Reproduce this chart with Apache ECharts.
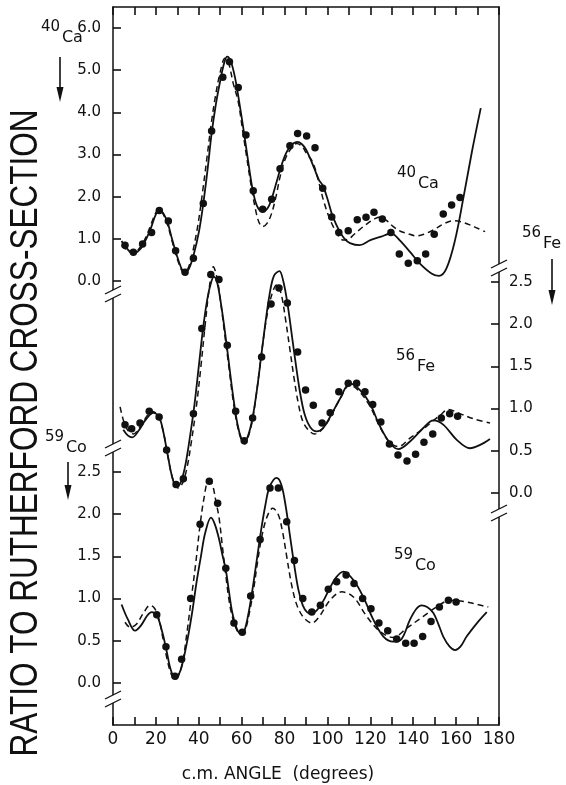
<!DOCTYPE html>
<html><head><meta charset="utf-8">
<script src="https://cdn.jsdelivr.net/npm/echarts@6/dist/echarts.min.js"></script>
<style>html,body{margin:0;padding:0;background:#fff}#c{width:566px;height:785px}</style>
</head><body><div id="c"></div><script>
// ---------- DATA ----------
const xTickLabels = [0, 20, 40, 60, 80, 100, 120, 140, 160, 180];

// 40Ca (left scale, top panel)
const caAngle = [5.6, 9.5, 13.8, 18.0, 21.6, 25.8, 29.2, 33.6, 37.5, 42.1, 46.0, 51.2, 54.3, 58.4, 62.0, 65.4, 69.8, 74.0, 77.9, 82.5, 86.1, 90.3, 94.2, 97.8, 102.0, 105.3, 109.7, 113.9, 118.0, 121.7, 125.6, 129.6, 133.5, 137.7, 141.9, 145.8, 149.8, 154.0, 157.9, 161.8];
const caValue = [0.85, 0.68, 0.88, 1.15, 1.67, 1.42, 0.72, 0.21, 0.54, 1.84, 3.56, 4.83, 5.20, 4.59, 3.46, 2.14, 1.70, 1.94, 2.66, 3.21, 3.50, 3.44, 3.16, 2.20, 1.52, 1.15, 1.19, 1.45, 1.51, 1.63, 1.47, 1.15, 0.64, 0.42, 0.48, 0.64, 1.11, 1.59, 1.80, 1.98];
const caSolidAngle = [4, 6, 9.5, 12, 14, 16, 18, 20, 21.8, 23.5, 25.5, 27.5, 29.5, 31.5, 33.5, 35.5, 37.5, 40, 42, 44, 46, 48, 50, 52, 53.3, 55, 57, 59, 61, 63, 65, 67, 69.5, 72, 74, 76, 78, 80, 82, 84, 86, 88, 90, 92, 94, 96, 98, 100, 102, 104, 106, 108, 110.5, 115, 120, 125, 129, 131, 134, 138.5, 143, 148.5, 152, 155.5, 159.5, 163.5, 167.5, 171.5];
const caSolidValue = [0.95, 0.8, 0.65, 0.72, 0.85, 1.05, 1.3, 1.58, 1.68, 1.6, 1.38, 1.0, 0.65, 0.35, 0.18, 0.3, 0.6, 1.15, 1.8, 2.6, 3.5, 4.2, 4.75, 5.2, 5.32, 5.2, 4.8, 4.2, 3.55, 2.85, 2.2, 1.8, 1.65, 1.72, 1.95, 2.3, 2.65, 2.95, 3.15, 3.26, 3.3, 3.25, 3.12, 2.9, 2.65, 2.4, 2.25, 1.95, 1.6, 1.35, 1.15, 1.0, 0.9, 0.85, 0.97, 1.05, 1.12, 1.1, 0.95, 0.69, 0.42, 0.18, 0.12, 0.3, 0.97, 2.0, 3.1, 4.1];
const caDashAngle = [4, 6, 9.5, 12, 14, 16, 18, 20, 21.5, 23, 25, 27, 29, 31, 33, 35, 37, 39.5, 42, 44, 46, 48, 50, 52.2, 54, 56, 58.4, 60.5, 62.3, 64.3, 66.2, 68, 69.8, 72, 74, 76, 77.9, 80, 82.5, 85.6, 88, 90.2, 93.3, 96.5, 98.1, 100.5, 102.7, 105, 107.4, 110, 112.1, 115, 118.3, 121.5, 124.5, 127.5, 130.7, 134, 137, 141.6, 145.5, 149.4, 154, 158.7, 162.5, 166.5, 170, 173.5];
const caDashValue = [0.85, 0.75, 0.66, 0.76, 0.9, 1.12, 1.38, 1.62, 1.7, 1.62, 1.4, 1.05, 0.68, 0.38, 0.2, 0.3, 0.65, 1.3, 2.2, 3.0, 3.8, 4.45, 4.95, 5.28, 5.15, 4.7, 4.25, 3.55, 2.95, 2.3, 1.76, 1.4, 1.29, 1.38, 1.61, 2.0, 2.47, 2.85, 3.1, 3.26, 3.2, 3.03, 2.8, 2.24, 1.92, 1.55, 1.29, 1.08, 0.97, 1.0, 1.09, 1.22, 1.35, 1.46, 1.52, 1.44, 1.29, 1.18, 1.13, 1.07, 1.12, 1.21, 1.35, 1.43, 1.4, 1.33, 1.25, 1.17];

// 56Fe (right scale, middle panel)
const feAngle = [5.6, 8.7, 12.6, 16.9, 21.5, 25.0, 29.4, 32.8, 37.5, 41.4, 45.6, 49.4, 53.3, 57.2, 61.2, 65.1, 69.3, 73.7, 77.4, 81.3, 86.1, 89.8, 93.4, 97.5, 101.3, 105.3, 109.7, 113.6, 117.5, 121.1, 124.9, 128.9, 132.9, 137.1, 141.1, 145.0, 149.1, 153.1, 157.0, 160.7];
const feValue = [0.81, 0.76, 0.83, 0.97, 0.90, 0.51, 0.10, 0.17, 0.94, 1.95, 2.59, 2.53, 1.75, 0.97, 0.62, 0.89, 1.61, 2.24, 2.43, 2.25, 1.67, 1.22, 1.04, 0.83, 0.95, 1.20, 1.30, 1.30, 1.20, 1.05, 0.84, 0.58, 0.45, 0.38, 0.46, 0.60, 0.70, 0.89, 0.94, 0.91];
const feSolidAngle = [4.8, 7, 9, 12, 15, 18.8, 21.5, 23.5, 25.5, 27.5, 29.6, 31.5, 33.5, 35.5, 38, 40, 42, 44, 45.8, 47.1, 48.5, 50, 52, 54, 56, 58, 60, 61.2, 63, 65, 67, 69, 71, 73, 75, 77.6, 79.5, 81.5, 83.5, 85.5, 87.5, 89.5, 92, 95, 98, 101.2, 105.9, 110.5, 115.2, 119.8, 124.5, 129.2, 133.1, 138.5, 144.7, 149.4, 154, 160.3, 166.5, 171.2, 175.8];
const feSolidValue = [0.75, 0.68, 0.66, 0.74, 0.86, 0.95, 0.9, 0.72, 0.45, 0.2, 0.07, 0.12, 0.3, 0.6, 1.05, 1.5, 1.95, 2.3, 2.5, 2.56, 2.5, 2.3, 1.95, 1.55, 1.15, 0.82, 0.63, 0.6, 0.68, 0.88, 1.2, 1.6, 2.0, 2.35, 2.57, 2.63, 2.5, 2.22, 1.85, 1.48, 1.15, 0.92, 0.78, 0.73, 0.77, 0.9, 1.12, 1.3, 1.22, 1.06, 0.79, 0.59, 0.52, 0.61, 0.77, 0.86, 0.81, 0.63, 0.53, 0.57, 0.64];
const feDashAngle = [3.3, 5, 7, 9.5, 12, 15, 18, 21, 23.5, 25.5, 28, 30.3, 32.5, 34.5, 36.5, 39, 41, 43, 45, 46.8, 48.5, 50, 52, 54, 56, 58, 60, 61.5, 63, 65, 67, 69, 71, 73, 75, 76.5, 78.5, 80.5, 82.5, 84.5, 86.5, 88.5, 91, 94, 97, 101, 106, 110.5, 115, 120, 124.5, 129, 133, 138.5, 142.5, 146.2, 149.5, 152.5, 156.4, 161.8, 168, 175.8];
const feDashValue = [1.02, 0.85, 0.74, 0.7, 0.76, 0.88, 0.97, 0.92, 0.72, 0.45, 0.15, 0.06, 0.12, 0.3, 0.6, 1.05, 1.5, 2.0, 2.45, 2.68, 2.55, 2.3, 1.9, 1.5, 1.1, 0.8, 0.62, 0.58, 0.66, 0.86, 1.2, 1.6, 1.98, 2.25, 2.42, 2.47, 2.35, 2.05, 1.7, 1.35, 1.05, 0.85, 0.75, 0.7, 0.74, 0.88, 1.12, 1.28, 1.2, 1.02, 0.78, 0.6, 0.55, 0.65, 0.72, 0.79, 0.86, 0.92, 0.99, 0.94, 0.88, 0.83];

// 59Co (left scale, bottom panel)
const coAngle = [20.4, 24.7, 28.9, 32.0, 36.2, 40.6, 44.9, 48.8, 52.6, 56.4, 60.3, 64.2, 68.6, 73.2, 77.1, 81.0, 84.6, 88.5, 92.7, 96.7, 100.4, 104.3, 108.7, 112.4, 116.4, 120.3, 124.0, 128.1, 132.3, 136.5, 140.4, 144.4, 148.3, 152.2, 156.4, 160.0];
const coValue = [0.81, 0.43, 0.08, 0.28, 1.00, 1.88, 2.39, 2.13, 1.36, 0.71, 0.60, 1.03, 1.70, 2.31, 2.31, 1.91, 1.45, 1.00, 0.84, 0.92, 1.11, 1.20, 1.28, 1.18, 1.00, 0.88, 0.71, 0.62, 0.52, 0.47, 0.47, 0.55, 0.73, 0.90, 0.98, 0.96];
const coSolidAngle = [4, 7, 10.3, 13, 16, 18, 20.5, 23, 25, 27, 28.9, 31, 33, 35, 37, 39, 41, 43, 45.7, 47.5, 49.5, 51, 52.6, 54, 55.5, 57.5, 59.5, 61, 63, 65, 67, 69, 71, 73, 76.3, 78.5, 80.5, 82.5, 84.5, 86.5, 88.5, 90.5, 92.5, 95, 98, 101, 104, 107.4, 112.1, 116.7, 121.4, 126.1, 130.7, 134.5, 138.5, 141.5, 143.9, 146.5, 149.4, 152, 154, 157, 159.5, 162, 164.9, 170.4, 174.3];
const coSolidValue = [0.93, 0.75, 0.62, 0.68, 0.8, 0.84, 0.8, 0.6, 0.38, 0.15, 0.07, 0.12, 0.3, 0.55, 0.85, 1.2, 1.5, 1.78, 1.96, 1.88, 1.7, 1.52, 1.34, 1.1, 0.85, 0.66, 0.58, 0.6, 0.8, 1.1, 1.45, 1.8, 2.1, 2.32, 2.43, 2.35, 2.1, 1.75, 1.4, 1.1, 0.92, 0.84, 0.82, 0.86, 0.97, 1.12, 1.25, 1.32, 1.22, 1.02, 0.75, 0.55, 0.49, 0.52, 0.75, 0.88, 0.92, 0.9, 0.83, 0.68, 0.55, 0.43, 0.39, 0.43, 0.55, 0.73, 0.84];
const coDashAngle = [5.6, 8, 11, 14, 17.3, 19.5, 21.5, 23.5, 25.5, 27.5, 29, 30.5, 32.5, 34.5, 36.5, 38.5, 40.5, 42.5, 44.5, 46.3, 48, 49.5, 51, 52.5, 54, 55.5, 57.5, 59.5, 61.5, 63.5, 65.5, 67.5, 69.5, 72, 74.5, 77, 79, 81, 83, 85, 87, 89.5, 92.7, 96, 101.2, 106.6, 112.1, 118.3, 124.5, 130.7, 137, 144.7, 150.9, 157.2, 164.9, 170, 175];
const coDashValue = [0.72, 0.66, 0.7, 0.82, 0.92, 0.88, 0.75, 0.5, 0.25, 0.08, 0.04, 0.08, 0.25, 0.6, 1.0, 1.4, 1.85, 2.2, 2.39, 2.35, 2.15, 1.95, 1.62, 1.3, 1.0, 0.8, 0.64, 0.58, 0.62, 0.82, 1.1, 1.45, 1.75, 1.98, 2.07, 2.0, 1.8, 1.5, 1.2, 0.98, 0.85, 0.76, 0.71, 0.78, 0.98, 1.08, 1.02, 0.79, 0.61, 0.54, 0.65, 0.79, 0.9, 0.98, 0.96, 0.93, 0.9];

// ---------- CHART ----------
const zip = (a, b) => a.map((v, i) => [v, b[i]]);
const INK = '#111';
const FONT = 'DejaVu Sans';
const chart = echarts.init(document.getElementById('c'), null, {renderer: 'canvas'});
const tickStyle = {show: true, inside: true, length: 8, lineStyle: {color: INK, width: 1.6}};

function hiddenX(gi) {
  return {gridIndex: gi, type: 'value', min: 0, max: 180, show: false};
}
function panelY(gi, pos, max, interval, decimals) {
  return {
    gridIndex: gi, type: 'value', position: pos, min: 0, max: max, interval: interval,
    axisLine: {show: false, onZero: false},
    axisTick: tickStyle,
    axisLabel: {show: true, color: INK, fontFamily: FONT, fontSize: 15, margin: pos === 'left' ? 12 : 10,
      formatter: v => v.toFixed(decimals)},
    splitLine: {show: false}
  };
}
function scatter(xi, yi, a, v) {
  return {type: 'scatter', xAxisIndex: xi, yAxisIndex: yi, data: zip(a, v), symbol: 'circle', symbolSize: 7.5,
    itemStyle: {color: INK, opacity: 1}, z: 5, clip: false};
}
function curve(xi, yi, a, v, dashed) {
  return {type: 'line', xAxisIndex: xi, yAxisIndex: yi, data: zip(a, v), showSymbol: false, smooth: 0.35,
    clip: false, z: 4,
    lineStyle: {color: INK, width: dashed ? 1.5 : 1.8, type: dashed ? [6, 4] : 'solid'}};
}

function supLabel(x, y, sup, main, size) {
  return [
    {type: 'text', x: x, y: y, style: {text: sup, fontFamily: FONT, fontSize: size - 1, fill: INK, align: 'left', verticalAlign: 'middle'}},
    {type: 'text', x: x + (sup.length * (size - 1) * 0.63) + 2, y: y + 11, style: {text: main, fontFamily: FONT, fontSize: size, fill: INK, align: 'left', verticalAlign: 'middle'}}
  ];
}
function arrow(x, y1, y2) {
  return [
    {type: 'line', shape: {x1: x, y1: y1, x2: x, y2: y2 - 6}, style: {stroke: INK, lineWidth: 1.6}},
    {type: 'polygon', shape: {points: [[x - 3.5, y2 - 15], [x + 3.5, y2 - 15], [x, y2]]}, style: {fill: INK}}
  ];
}
function brk(x, y) {
  return [
    {type: 'rect', shape: {x: x - 2, y: y - 4, width: 4, height: 8}, style: {fill: '#fff'}, z: 20},
    {type: 'line', shape: {x1: x - 8, y1: y, x2: x + 8, y2: y - 8}, style: {stroke: INK, lineWidth: 1.3}, z: 21},
    {type: 'line', shape: {x1: x - 8, y1: y + 8, x2: x + 8, y2: y}, style: {stroke: INK, lineWidth: 1.3}, z: 21}
  ];
}

const graphics = [].concat(
  [{type: 'text', x: 27, y: 433, rotation: Math.PI / 2, scaleX: 0.83,
    style: {text: 'RATIO TO RUTHERFORD CROSS-SECTION', fontFamily: 'Liberation Sans', fontSize: 38, fill: INK, align: 'center', verticalAlign: 'middle'}}],
  [{type: 'text', x: 278, y: 775,
    style: {text: 'c.m. ANGLE  (degrees)', fontFamily: FONT, fontSize: 17, fill: INK, align: 'center', verticalAlign: 'middle'}}],
  supLabel(41, 27, '40', 'Ca', 16),
  supLabel(522, 233, '56', 'Fe', 16),
  supLabel(45, 437, '59', 'Co', 16),
  supLabel(397, 173, '40', 'Ca', 16),
  supLabel(396, 356, '56', 'Fe', 16),
  supLabel(394, 555, '59', 'Co', 16),
  arrow(60, 57, 102),
  arrow(552, 259, 305),
  arrow(68, 462, 500),
  brk(113, 294), brk(113, 448), brk(113, 699),
  brk(499, 268), brk(499, 513)
);

const frameLine = {show: true, onZero: false, lineStyle: {color: INK, width: 1.5}};

chart.setOption({
  animation: false,
  backgroundColor: '#fff',
  grid: [
    {left: 113, top: 7, width: 386, height: 718},
    {left: 113, top: 28, width: 386, height: 253},
    {left: 113, top: 282, width: 386, height: 211},
    {left: 113, top: 472, width: 386, height: 211}
  ],
  xAxis: [
    {gridIndex: 0, type: 'value', position: 'bottom', min: 0, max: 180, interval: 10,
      axisLine: frameLine,
      axisTick: tickStyle,
      axisLabel: {show: true, color: INK, fontFamily: FONT, fontSize: 17, margin: 6,
        formatter: v => (xTickLabels.indexOf(v) >= 0 ? String(v) : '')},
      splitLine: {show: false}},
    {gridIndex: 0, type: 'value', position: 'top', min: 0, max: 180, interval: 10,
      axisLine: frameLine,
      axisTick: tickStyle,
      axisLabel: {show: false}, splitLine: {show: false}},
    hiddenX(1), hiddenX(2), hiddenX(3)
  ],
  yAxis: [
    {gridIndex: 0, type: 'value', position: 'left', min: 0, max: 1,
      axisLine: frameLine, axisTick: {show: false}, axisLabel: {show: false}, splitLine: {show: false}},
    {gridIndex: 0, type: 'value', position: 'right', min: 0, max: 1,
      axisLine: frameLine, axisTick: {show: false}, axisLabel: {show: false}, splitLine: {show: false}},
    panelY(1, 'left', 6, 1, 1),
    panelY(2, 'right', 2.5, 0.5, 1),
    panelY(3, 'left', 2.5, 0.5, 1)
  ],
  series: [
    curve(2, 2, caSolidAngle, caSolidValue, false),
    curve(2, 2, caDashAngle, caDashValue, true),
    scatter(2, 2, caAngle, caValue),
    curve(3, 3, feSolidAngle, feSolidValue, false),
    curve(3, 3, feDashAngle, feDashValue, true),
    scatter(3, 3, feAngle, feValue),
    curve(4, 4, coSolidAngle, coSolidValue, false),
    curve(4, 4, coDashAngle, coDashValue, true),
    scatter(4, 4, coAngle, coValue)
  ],
  graphic: graphics
});
</script></body></html>
